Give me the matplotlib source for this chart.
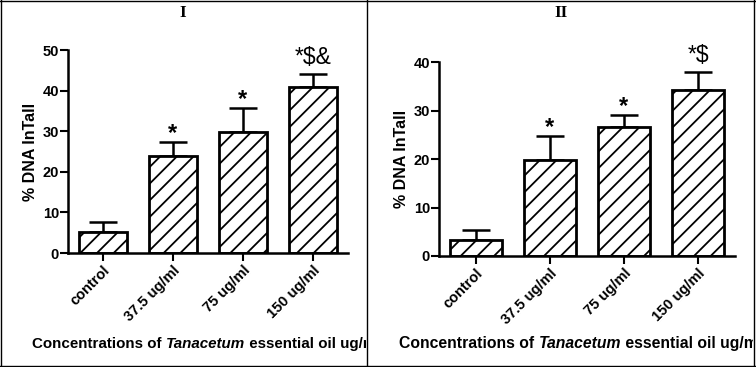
import matplotlib
matplotlib.use("Agg")
import matplotlib.pyplot as plt
from matplotlib.transforms import Bbox, TransformedBbox
from matplotlib.lines import Line2D

plt.rcParams['font.family'] = ['Liberation Sans', 'DejaVu Sans']
plt.rcParams['hatch.linewidth'] = 1.3

categories = ["control", "37.5 ug/ml", "75 ug/ml", "150 ug/ml"]

# panel I
means_1 = [5.2, 24.0, 29.8, 40.8]
sem_1 = [2.4, 3.3, 6.0, 3.2]
marks_1 = ["", "*", "*", "*$&"]

# panel II
means_2 = [3.4, 19.8, 26.6, 34.3]
sem_2 = [2.0, 5.0, 2.5, 3.7]
marks_2 = ["", "*", "*", "*$"]

fig = plt.figure(figsize=(7.56, 3.67), dpi=100)

panels = [
    # axes rect, means, sem, marks, ylim, yticks, title, title x, panel clip (fig x0, x1), xlabel x, xlabel size
    ([0.0899, 0.3106, 0.3704, 0.5531], means_1, sem_1, marks_1, 50, range(0, 51, 10), "I", 183 / 756, (0.0, 366 / 756), 32 / 756, 10.9),
    ([0.5807, 0.3025, 0.3915, 0.5278], means_2, sem_2, marks_2, 40, range(0, 41, 10), "II", 561 / 756, (367 / 756, 753 / 756), 399 / 756, 11.3),
]

for rect, means, sem, marks, ytop, yticks, title, tx, clipx, lx, lsize in panels:
    ax = fig.add_axes(rect)
    x = range(len(categories))
    ax.bar(x, means, width=0.69, color="white", edgecolor="black",
           linewidth=2, hatch="//", zorder=2)
    ax.errorbar(x, means, yerr=[[0] * len(sem), sem], fmt="none",
                ecolor="black", elinewidth=1.8, capsize=10, capthick=1.8, zorder=1)
    for xi, m, s, mk in zip(x, means, sem, marks):
        if not mk:
            continue
        if mk == "*":
            ax.annotate(mk, xy=(xi, m + s), xytext=(0, 1.3), textcoords="offset points",
                        ha="center", va="baseline", fontsize=17, fontweight="bold",
                        annotation_clip=False)
        else:
            ax.annotate(mk, xy=(xi, m + s), xytext=(0, 7.5), textcoords="offset points",
                        ha="center", va="baseline", fontsize=16.5, annotation_clip=False)
    ax.set_xlim(-0.5, 3.5)
    ax.set_ylim(0, ytop)
    ax.set_yticks(list(yticks))
    ax.set_xticks(list(x))
    ax.set_xticklabels(categories, rotation=45, ha="right", rotation_mode="anchor",
                       fontsize=10.5, fontweight="bold")
    for lab in ax.get_yticklabels():
        lab.set_fontweight("bold")
        lab.set_fontsize(10.5)
    ax.tick_params(axis="both", direction="out", length=5.5, width=1.5, pad=1)
    ax.tick_params(axis="x", pad=2)
    ax.spines[["top", "right"]].set_visible(False)
    ax.spines[["left", "bottom"]].set_linewidth(1.8)
    ax.set_ylabel("% DNA InTall", fontsize=11.5, fontweight="bold", labelpad=3)

    fig.text(tx, 1 - 13 / 367, title, family="Liberation Serif", fontweight="bold",
             fontsize=12.5, ha="center", va="center")

    clip = TransformedBbox(Bbox([[clipx[0], 0], [clipx[1], 1]]), fig.transFigure)
    t1 = fig.text(lx, 1 - 348 / 367, "Concentrations of ", fontsize=lsize,
                  fontweight="bold", ha="left", va="baseline")
    t2 = ax.annotate("Tanacetum", xy=(1, 0), xycoords=t1, fontsize=lsize, fontweight="bold",
                     style="italic", va="bottom", annotation_clip=False)
    t3 = ax.annotate(" essential oil ug/ml", xy=(1, 0), xycoords=t2, fontsize=lsize,
                     fontweight="bold", va="bottom", annotation_clip=False)
    for t in (t1, t2, t3):
        t.set_clip_box(clip)
        t.set_clip_on(True)

# frame and divider
for xs, ys in [([1 / 756, 1 / 756], [0, 1]), ([754 / 756, 754 / 756], [0, 1]),
               ([0, 1], [1 / 367, 1 / 367]), ([0, 1], [366 / 367, 366 / 367]),
               ([367 / 756, 367 / 756], [0, 1])]:
    fig.add_artist(Line2D(xs, ys, color="black", linewidth=1, transform=fig.transFigure))

fig.savefig("out.png", dpi=100)
